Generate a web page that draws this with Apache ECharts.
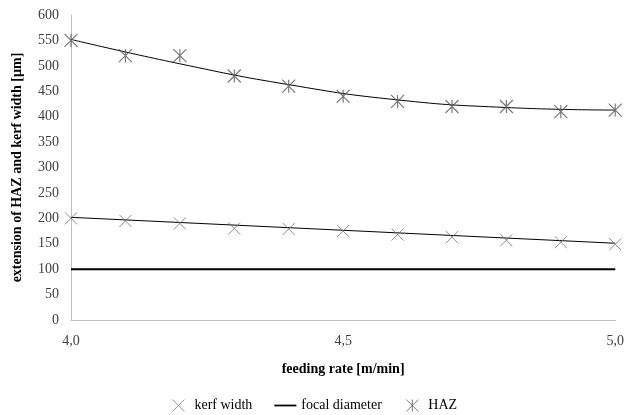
<!DOCTYPE html>
<html>
<head>
<meta charset="utf-8">
<script src="https://cdn.jsdelivr.net/npm/echarts@6/dist/echarts.min.js"></script>
<style>
  html, body { margin: 0; padding: 0; background: #fff; }
  #chart { width: 627px; height: 415px; }
</style>
</head>
<body>
<div id="chart"></div>
<script>
// measured points
var feedRate = [4.0, 4.1, 4.2, 4.3, 4.4, 4.5, 4.6, 4.7, 4.8, 4.9, 5.0];
var kerfWidth = [200, 195, 190, 180, 179, 175, 168, 163, 157, 153, 149];
var haz = [550, 520, 520, 480, 460, 440, 430, 420, 420, 410, 413];
var focalRate = [4.0, 5.0];
var focalDiameter = [100, 100];
// trend lines
var hazTrendRate = [4.0, 4.2, 4.4, 4.6, 4.8, 5.0];
var hazTrend = [552, 504, 463, 433, 418, 413];
var kerfTrendRate = [4.0, 5.0];
var kerfTrend = [202, 151];

var crossPath = 'path://M0,0L10,10M10,0L0,10';
var starPath = 'path://M0,0L10,10M10,0L0,10M5,0L5,10';
var linePath = 'path://M0,0H20V1.6H0Z';

function pairs(xs, ys) {
  return xs.map(function (x, i) { return [x, ys[i]]; });
}

var chart = echarts.init(document.getElementById('chart'));
var font = 'Liberation Serif';

chart.setOption({
  animation: false,
  textStyle: { fontFamily: font },
  grid: { left: 71, right: 10, top: 15, bottom: 95 },
  legend: {
    top: 392,
    left: 'center',
    itemGap: 22,
    itemWidth: 22,
    itemHeight: 12,
    textStyle: { fontFamily: font, fontSize: 14, color: '#000' },
    data: [
      { name: 'kerf width', icon: crossPath, itemStyle: { color: 'none', borderColor: '#7f7f7f', borderWidth: 1 } },
      { name: 'focal diameter', icon: linePath, itemStyle: { color: '#000', borderWidth: 0 } },
      { name: 'HAZ', icon: starPath, itemStyle: { color: 'none', borderColor: '#595959', borderWidth: 1 } }
    ]
  },
  xAxis: {
    type: 'value',
    min: 4.0,
    max: 5.0,
    interval: 0.5,
    name: 'feeding rate [m/min]',
    nameLocation: 'middle',
    nameGap: 42,
    nameTextStyle: { fontFamily: font, fontWeight: 'bold', fontSize: 14, color: '#000' },
    axisLine: { lineStyle: { color: '#bfbfbf', width: 1 } },
    axisTick: { show: false },
    splitLine: { show: false },
    axisLabel: {
      fontFamily: font, fontSize: 14, color: '#404040', margin: 14,
      formatter: function (v) { return v.toFixed(1).replace('.', ','); }
    }
  },
  yAxis: {
    type: 'value',
    min: 0,
    max: 600,
    interval: 50,
    name: 'extension of HAZ and kerf width [µm]',
    nameLocation: 'middle',
    nameGap: 47,
    nameTextStyle: { fontFamily: font, fontWeight: 'bold', fontSize: 14, color: '#000' },
    axisLine: { show: true, lineStyle: { color: '#bfbfbf', width: 1 } },
    axisTick: { show: false },
    splitLine: { show: false },
    axisLabel: { fontFamily: font, fontSize: 14, color: '#404040', margin: 12 }
  },
  series: [
    {
      name: 'kerf width trend',
      type: 'line',
      data: pairs(kerfTrendRate, kerfTrend),
      showSymbol: false,
      lineStyle: { color: '#000', width: 1 },
      z: 1
    },
    {
      name: 'HAZ trend',
      type: 'line',
      smooth: true,
      data: pairs(hazTrendRate, hazTrend),
      showSymbol: false,
      lineStyle: { color: '#000', width: 1 },
      z: 1
    },
    {
      name: 'focal diameter',
      type: 'line',
      data: pairs(focalRate, focalDiameter),
      showSymbol: false,
      itemStyle: { color: '#000' },
      lineStyle: { color: '#000', width: 2 },
      z: 2
    },
    {
      name: 'kerf width',
      type: 'scatter',
      data: pairs(feedRate, kerfWidth),
      symbol: crossPath,
      symbolSize: 12,
      itemStyle: { color: 'none', borderColor: '#6f6f6f', borderWidth: 1 },
      z: 3
    },
    {
      name: 'HAZ',
      type: 'scatter',
      data: pairs(feedRate, haz),
      symbol: starPath,
      symbolSize: 13,
      itemStyle: { color: 'none', borderColor: '#595959', borderWidth: 1.2 },
      z: 3
    }
  ]
});
</script>
</body>
</html>
